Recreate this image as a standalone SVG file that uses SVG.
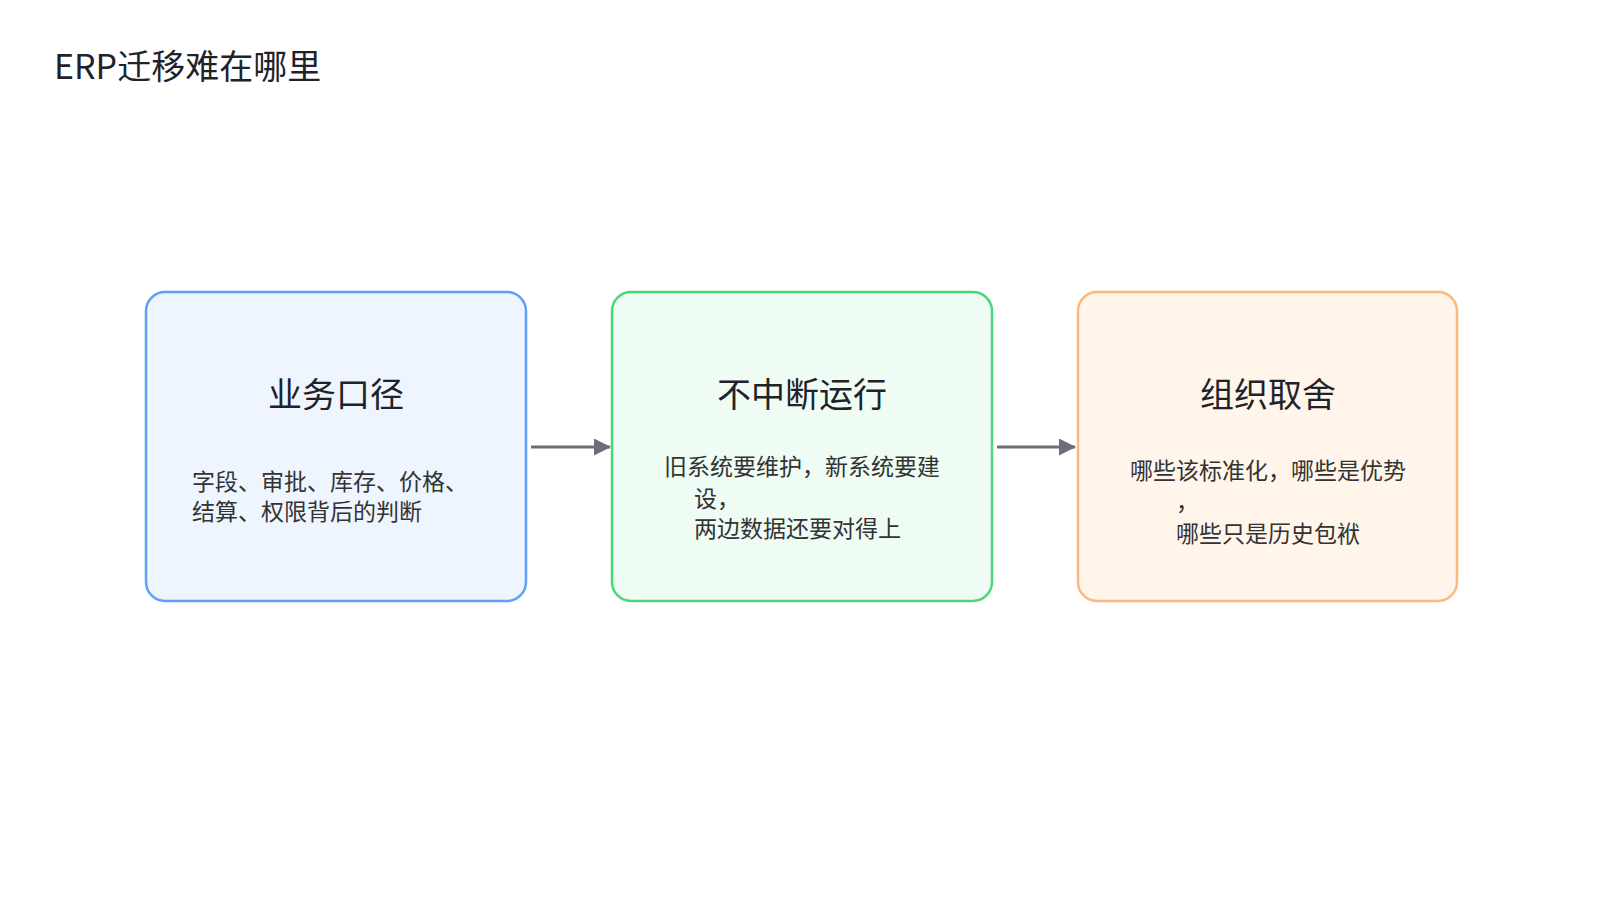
<svg xmlns="http://www.w3.org/2000/svg" width="1600" height="900" viewBox="0 0 1600 900">
<style>
text{font-family:"Noto Sans CJK SC","Noto Sans",sans-serif;fill:#1f2329}
.h{font-size:34px;text-anchor:middle}
.b{font-size:23px;fill:#333}
.c{stroke:#6b6f7a;stroke-width:3;fill:none;marker-end:url(#a)}
</style>
<defs><marker id="a" markerWidth="17" markerHeight="17" refX="16" refY="8.5" orient="auto" markerUnits="userSpaceOnUse" viewBox="0 0 17 17"><path d="M0,0L17,8.5L0,17z" fill="#6b6f7a"/></marker></defs>
<rect width="1600" height="900" fill="#fff"/>
<text x="54" y="79" style="font-size:34px">ERP迁移难在哪里</text>
<g id="connectors">
<path class="c" d="M531,447H610"/>
<path class="c" d="M997,447H1075"/>
</g>
<g id="n1">
<rect x="146" y="292" width="380" height="309" rx="19" fill="#eef5ff" stroke="#5ea1f7" stroke-width="2.5"/>
<text class="h" x="336" y="407">业务口径</text>
<text class="b" x="192" y="490">字段、审批、库存、价格、</text>
<text class="b" x="192" y="520">结算、权限背后的判断</text>
</g>
<g id="n2">
<rect x="612" y="292" width="380" height="309" rx="19" fill="#eefcf3" stroke="#49d77c" stroke-width="2.5"/>
<text class="h" x="802" y="407">不中断运行</text>
<text class="b" x="802" y="475" text-anchor="middle">旧系统要维护，新系统要建</text>
<text class="b" x="694" y="507">设，</text>
<text class="b" x="694" y="537">两边数据还要对得上</text>
</g>
<g id="n3">
<rect x="1078" y="292" width="379" height="309" rx="19" fill="#fff5eb" stroke="#fdb977" stroke-width="2.5"/>
<text class="h" x="1268" y="407">组织取舍</text>
<text class="b" x="1268" y="479" text-anchor="middle">哪些该标准化，哪些是优势</text>
<text class="b" x="1176" y="510">，</text>
<text class="b" x="1268" y="542" text-anchor="middle">哪些只是历史包袱</text>
</g>
</svg>
